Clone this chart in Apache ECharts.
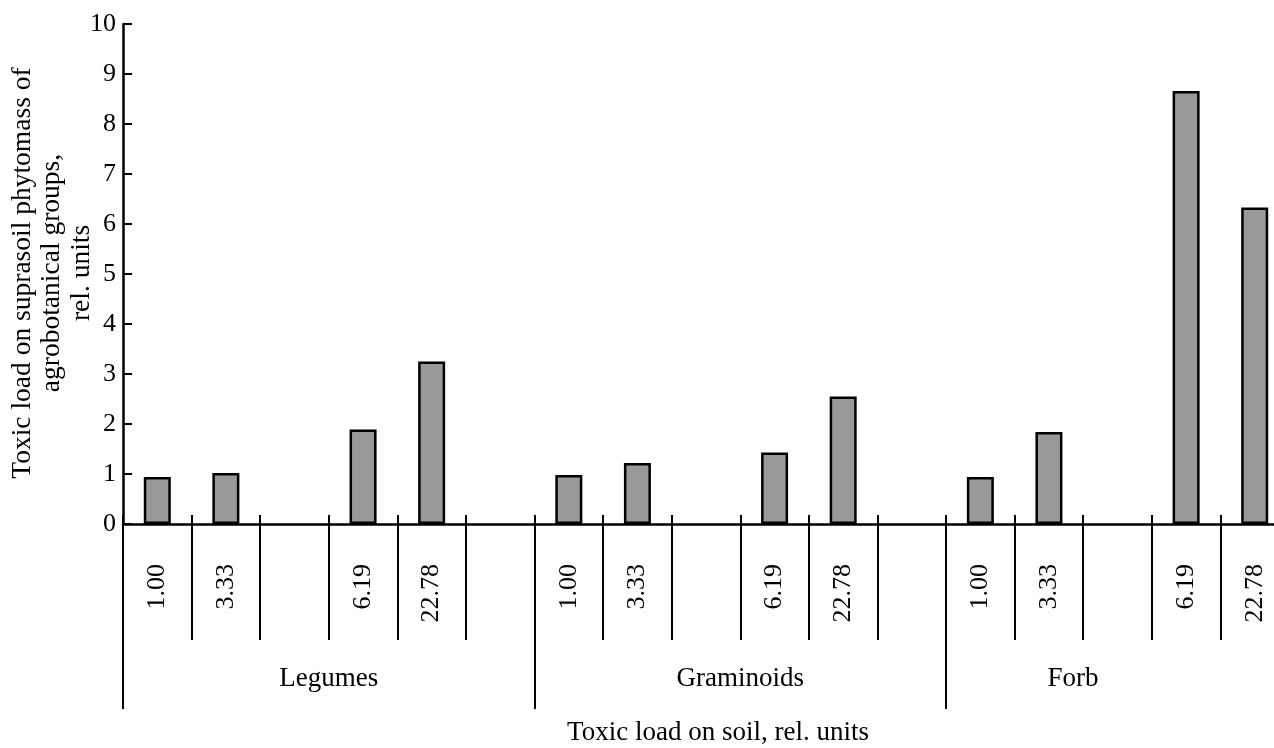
<!DOCTYPE html>
<html>
<head>
<meta charset="utf-8">
<script src="https://cdn.jsdelivr.net/npm/echarts@6/dist/echarts.min.js"></script>
<style>
html,body{margin:0;padding:0;background:#fff;}
#chart{width:1274px;height:748px;}
</style>
</head>
<body>
<div id="chart"></div>
<script>
// ---- data ----
const tickLabels = ['1.00','3.33','','6.19','22.78','','1.00','3.33','','6.19','22.78','','1.00','3.33','','6.19','22.78'];
const values = [0.94, 1.02, '-', 1.89, 3.25, '-', 0.98, 1.22, '-', 1.43, 2.55, '-', 0.94, 1.84, '-', 8.66, 6.33];
const groupNames = ['Legumes', 'Graminoids', 'Forb'];
const groupSizes = [6, 6, 5];
const groupLabelPos = [3, 9, 13.85];
const xTitle = 'Toxic load on soil, rel. units';
const yTitle = 'Toxic load on suprasoil phytomass of\nagrobotanical groups,\nrel. units';

// ---- derived ----
const categories = tickLabels.map((_, i) => String(i));
const nSlots = tickLabels.length;
const groupBounds = [0];
groupSizes.forEach(s => groupBounds.push(groupBounds[groupBounds.length - 1] + s));
const allBounds = [];
for (let i = 0; i <= nSlots; i++) allBounds.push(i);

const FONT = '"Liberation Serif", "DejaVu Serif", serif';
const gridRect = { left: 123, top: 24, width: 1166, height: 500, outerBoundsMode: 'none', containLabel: false };

const chart = echarts.init(document.getElementById('chart'), null, { renderer: 'canvas' });
chart.setOption({
  animation: false,
  backgroundColor: '#ffffff',
  grid: [
    Object.assign({}, gridRect),
    Object.assign({}, gridRect),
    Object.assign({}, gridRect)
  ],
  xAxis: [
    {
      type: 'category', gridIndex: 0, data: categories, position: 'bottom',
      boundaryGap: true,
      axisLine: { show: true, lineStyle: { color: '#000', width: 2.5 } },
      axisTick: { show: true, inside: false, length: 116, interval: 0, alignWithLabel: false,
                  lineStyle: { color: '#000', width: 2 } },
      axisLabel: { show: true, interval: 0, rotate: 90, margin: 40, color: '#000',
                   fontFamily: FONT, fontSize: 26, hideOverlap: false,
                   formatter: (v, idx) => tickLabels[idx] },
      splitLine: { show: false }
    },
    {
      type: 'value', gridIndex: 1, min: 0, max: nSlots, position: 'bottom',
      axisLine: { show: false },
      axisTick: { show: true, inside: true, length: 9, customValues: allBounds,
                  lineStyle: { color: '#000', width: 2 } },
      axisLabel: { show: false, customValues: allBounds },
      splitLine: { show: false }
    },
    {
      type: 'value', gridIndex: 2, min: 0, max: nSlots, position: 'bottom',
      axisLine: { show: false },
      axisTick: { show: true, inside: false, length: 185, customValues: groupBounds,
                  lineStyle: { color: '#000', width: 2 } },
      axisLabel: { show: true, customValues: groupLabelPos, margin: 141, color: '#000',
                   fontFamily: FONT, fontSize: 27,
                   formatter: function (v) {
                     for (let i = 0; i < groupLabelPos.length; i++) {
                       if (Math.abs(groupLabelPos[i] - v) < 1e-6) return groupNames[i];
                     }
                     return '';
                   } },
      splitLine: { show: false }
    }
  ],
  yAxis: [
    {
      type: 'value', gridIndex: 0, min: 0, max: 10, interval: 1,
      axisLine: { show: true, lineStyle: { color: '#000', width: 2.5 } },
      axisTick: { show: true, inside: true, length: 9, lineStyle: { color: '#000', width: 2 } },
      axisLabel: { show: true, margin: 7, color: '#000', fontFamily: FONT, fontSize: 26,
                   formatter: v => String(v) },
      splitLine: { show: false }
    },
    { type: 'value', gridIndex: 1, show: false, min: 0, max: 10 },
    { type: 'value', gridIndex: 2, show: false, min: 0, max: 10 }
  ],
  series: [
    {
      type: 'bar', xAxisIndex: 0, yAxisIndex: 0, data: values,
      barWidth: 27,
      itemStyle: { color: '#999999', borderColor: '#000', borderWidth: 2.5 }
    }
  ],
  graphic: [
    {
      type: 'text', x: 718, y: 733,
      style: { text: xTitle, fill: '#000', font: '27px ' + FONT,
               textAlign: 'center', textVerticalAlign: 'middle' }
    },
    {
      type: 'text', x: 52, y: 273, rotation: Math.PI / 2,
      style: { text: yTitle, fill: '#000', font: '27.5px ' + FONT, lineHeight: 29.5,
               textAlign: 'center', textVerticalAlign: 'middle' }
    }
  ]
});
</script>
</body>
</html>
